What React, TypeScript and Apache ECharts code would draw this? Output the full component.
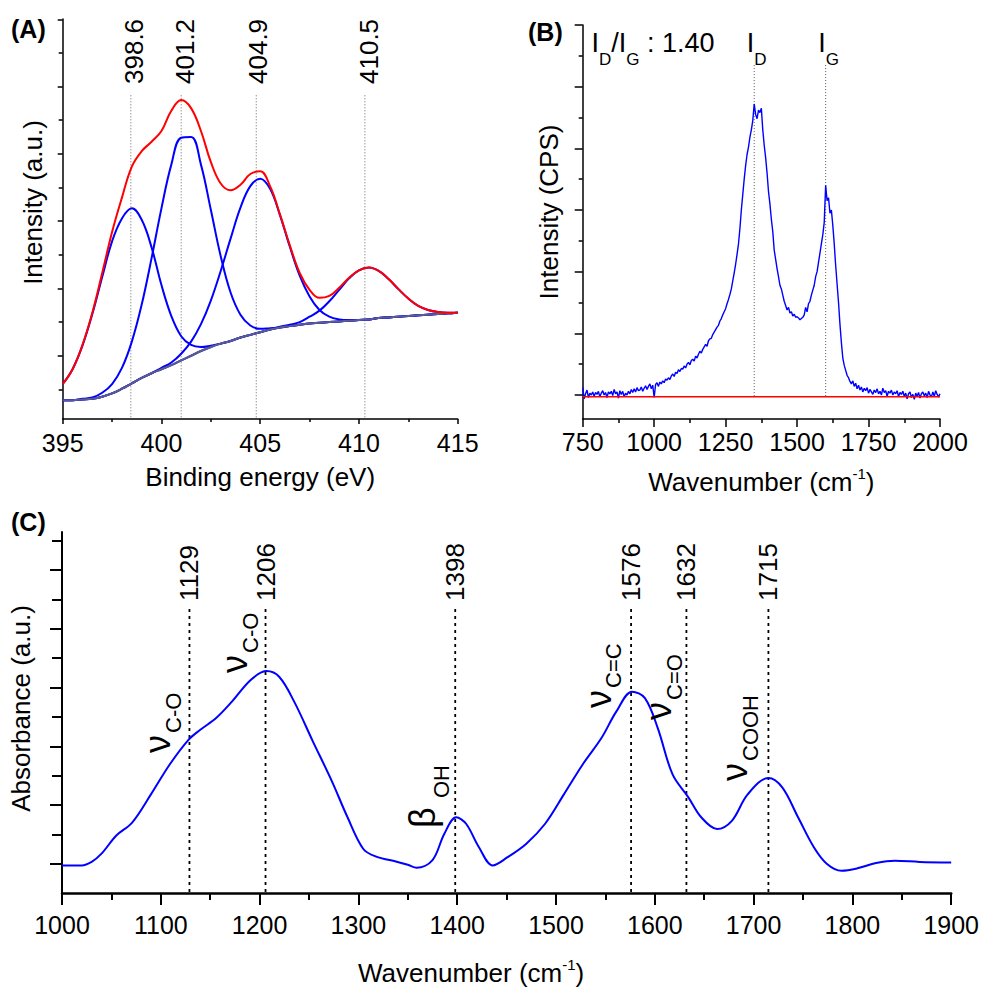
import React, { useEffect, useRef } from 'react';
import * as echarts from 'echarts';

const FONT = "'Liberation Sans', Arial, Helvetica, sans-serif";

// ---------- Panel A : XPS N1s ----------
const xpsStart = 395;
const xpsStep = 0.5;
const xpsBackground = [0.28,0.28,0.29,0.30,0.33,0.38,0.45,0.53,0.61,0.68,0.74,0.80,0.87,0.94,1.01,1.07,1.12,1.16,1.21,1.25,1.29,1.33,1.36,1.38,1.40,1.42,1.43,1.44,1.45,1.46,1.47,1.48,1.50,1.51,1.52,1.53,1.54,1.55,1.56,1.57,1.58];
const xpsPeak1 = [0.52,0.74,1.09,1.56,2.11,2.64,2.98,3.13,2.96,2.55,1.99,1.53,1.23,1.10,1.07,1.09,1.12,1.16,1.21,1.25,1.29,1.33,1.36,1.38,1.40,1.42,1.43,1.44,1.45,1.46,1.47,1.48,1.50,1.51,1.52,1.53,1.54,1.55,1.56,1.57,1.58];
const xpsPeak2 = [0.28,0.28,0.30,0.32,0.39,0.52,0.76,1.15,1.70,2.39,3.13,3.78,4.18,4.19,3.78,3.11,2.42,1.88,1.55,1.39,1.34,1.35,1.36,1.38,1.40,1.42,1.43,1.44,1.45,1.46,1.47,1.48,1.50,1.51,1.52,1.53,1.54,1.55,1.56,1.57,1.58];
const xpsPeak3 = [0.28,0.28,0.29,0.30,0.33,0.38,0.45,0.53,0.61,0.68,0.76,0.84,0.97,1.15,1.41,1.76,2.20,2.68,3.14,3.46,3.57,3.42,3.03,2.56,2.13,1.82,1.62,1.52,1.48,1.47,1.47,1.48,1.50,1.51,1.52,1.53,1.54,1.55,1.56,1.57,1.58];
const xpsPeak4 = [0.28,0.28,0.29,0.30,0.33,0.38,0.45,0.53,0.61,0.68,0.74,0.80,0.87,0.94,1.01,1.07,1.12,1.16,1.21,1.25,1.29,1.33,1.37,1.40,1.44,1.52,1.61,1.75,1.92,2.09,2.21,2.25,2.20,2.08,1.93,1.79,1.68,1.62,1.59,1.58,1.58];
const xpsEnvelope = [0.52,0.74,1.10,1.58,2.17,2.78,3.29,3.75,3.98,4.12,4.28,4.58,4.74,4.62,4.28,3.82,3.50,3.40,3.48,3.64,3.68,3.46,3.04,2.58,2.17,1.92,1.80,1.83,1.95,2.10,2.21,2.25,2.20,2.08,1.93,1.79,1.68,1.62,1.59,1.58,1.58];
const xpsPeakLabels = ['398.6', '401.2', '404.9', '410.5'];
const xpsPeakLabelAt = [398.6, 401.2, 404.9, 410.5];
const xpsGuides = [398.45, 401.0, 404.8, 410.3];
const xpsGuideTop = 4.81;

// ---------- Panel B : Raman ----------
const ramanStart = 750;
const ramanStep = 5;
const ramanIntensity = [
  0.12,-0.06,0.02,0.08,-0.04,0.03,0.00,0.05,-0.02,0.04,
  0.01,0.06,-0.03,0.03,0.07,0.00,0.04,-0.04,0.05,0.02,
  0.06,-0.01,0.09,0.02,0.05,-0.05,0.07,0.01,0.06,-0.03,
  0.03,0.00,0.06,0.02,0.09,0.04,0.10,0.05,0.12,0.07,
  0.08,0.13,0.06,0.11,0.15,0.09,0.14,0.18,0.10,0.16,
  -0.04,0.17,0.20,0.14,0.21,0.18,0.23,0.20,0.26,0.24,
  0.28,0.25,0.31,0.34,0.30,0.37,0.35,0.41,0.38,0.43,
  0.42,0.47,0.44,0.50,0.53,0.49,0.56,0.58,0.55,0.63,
  0.60,0.66,0.71,0.68,0.74,0.78,0.82,0.79,0.88,0.91,
  0.92,0.98,1.02,1.06,1.10,1.13,1.20,1.24,1.30,1.35,
  1.40,1.48,1.55,1.63,1.72,1.85,1.98,2.12,2.28,2.45,
  2.70,3.00,3.25,3.50,3.72,3.90,4.02,4.18,4.30,4.45,
  4.72,4.55,4.48,4.62,4.58,4.65,4.30,4.05,3.85,3.60,
  3.30,3.10,2.85,2.65,2.35,2.20,2.05,1.92,1.78,1.72,
  1.62,1.52,1.45,1.38,1.42,1.33,1.35,1.28,1.31,1.26,
  1.27,1.25,1.22,1.24,1.26,1.30,1.42,1.35,1.48,1.52,
  1.62,1.70,1.78,1.92,2.00,2.15,2.30,2.45,2.60,2.80,
  3.40,3.15,3.20,2.95,3.00,2.75,2.45,2.10,1.80,1.50,
  1.15,0.85,0.60,0.48,0.40,0.32,0.28,0.22,0.18,0.23,
  0.14,0.19,0.10,0.16,0.08,0.13,0.05,0.11,0.07,0.12,
  0.03,0.09,0.05,0.01,0.08,0.04,0.10,0.02,0.06,0.00,
  0.11,0.04,0.07,-0.02,0.06,0.03,0.08,0.00,0.05,0.02,
  0.07,-0.03,0.04,0.01,0.06,-0.02,0.03,-0.06,0.02,0.05,
  -0.04,0.01,-0.07,0.03,-0.02,0.04,-0.05,0.02,0.05,-0.01,
  0.03,-0.04,0.06,0.00,-0.03,0.05,-0.02,0.07,0.01,-0.03,
  0.02
];
const ramanBaselineX = [750, 2000];
const ramanBaselineY = [-0.03, -0.03];
const ramanBands = [1350, 1600];
const ramanBandNames = ['D', 'G'];
const ramanRatio = '1.40';
const ramanGuideTop = 5.35;
const ramanGuideBottom = -0.03;

// ---------- Panel C : FTIR ----------
const ftirWn = [1000,1020,1030,1040,1055,1071,1090,1109,1128,1140,1156,1172,1191,1207,1220,1235,1254,1273,1289,1305,1318,1337,1350,1359,1375,1387,1399,1409,1422,1436,1451,1470,1489,1508,1527,1546,1561,1577,1590,1603,1618,1634,1647,1663,1678,1694,1715,1729,1745,1761,1774,1789,1805,1824,1843,1868,1900];
const ftirAbs = [-0.03,-0.03,0.03,0.17,0.48,0.70,1.18,1.69,2.11,2.28,2.48,2.76,3.13,3.28,3.18,2.76,2.08,1.41,0.79,0.25,0.12,0.04,-0.02,-0.07,0.06,0.51,0.79,0.68,0.28,-0.03,0.11,0.34,0.68,1.18,1.69,2.14,2.59,2.93,2.82,2.31,1.52,1.13,0.79,0.59,0.73,1.18,1.46,1.30,0.79,0.28,0.00,-0.12,-0.08,0.01,0.05,0.03,0.02];
const ftirBands = [1129, 1206, 1398, 1576, 1632, 1715];
const ftirGuideTop = 4.34;
const ftirGuideBottom = -0.5;
const ftirAssignSymbols = ['ν', 'ν', 'β', 'ν', 'ν', 'ν'];
const ftirAssignSubs = ['C-O', 'C-O', 'OH', 'C=C', 'C=O', 'COOH'];
const ftirAssignAt = [1100, 1178, 1368, 1546, 1607, 1684];

// layout-only constants (pixels)
const assignBottomY = [753, 673, 828, 708, 720, 781];

const plain = (v: number) => String(v);

function axisBase(extra: any) {
  return Object.assign({
    type: 'value',
    splitLine: { show: false },
    minorSplitLine: { show: false },
  }, extra);
}

function yTickAxis(gridIndex: number, min: number, max: number, ticks: number[], len: number, width: number, showLine: boolean) {
  return axisBase({
    gridIndex, min, max, position: 'left',
    axisLine: { show: showLine, onZero: false, lineStyle: { color: '#000', width } },
    axisTick: { show: true, customValues: ticks, length: len, lineStyle: { color: '#000', width } },
    axisLabel: { show: false },
  });
}

function buildOption() {
  const xsA = xpsEnvelope.map((_, i) => xpsStart + i * xpsStep);
  const pairA = (arr: number[]) => arr.map((v, i) => [xsA[i], v]);
  const ramanData = ramanIntensity.map((v, i) => [ramanStart + i * ramanStep, v]);
  const ftirData = ftirWn.map((w, i) => [w, ftirAbs[i]]);

  const line = (xi: number, yi: number, data: any[], color: string, width: number, smooth: any, z = 2) => ({
    type: 'line', xAxisIndex: xi, yAxisIndex: yi, data, showSymbol: false, symbol: 'none',
    smooth, lineStyle: { color, width }, silent: true, z,
  });
  const guide = (xi: number, yi: number, x: number, y0: number, y1: number, color: string, width: number, dash: number[]) => ({
    type: 'line', xAxisIndex: xi, yAxisIndex: yi, data: [[x, y0], [x, y1]], showSymbol: false, symbol: 'none',
    lineStyle: { color, width, type: dash }, silent: true, z: 1,
  });

  const series: any[] = [];
  xpsGuides.forEach((g) => series.push(guide(0, 0, g, xpsGuideTop, 0, '#666', 1, [1, 2])));
  [xpsPeak1, xpsPeak2, xpsPeak3, xpsPeak4].forEach((p) => series.push(line(0, 0, pairA(p), '#0000ff', 2, 0.4)));
  series.push(line(0, 0, pairA(xpsBackground), '#5c5c8c', 2, 0.4));
  series.push(line(0, 0, pairA(xpsEnvelope), '#ff0000', 2, 0.4));

  ramanBands.forEach((b) => series.push(guide(1, 2, b, ramanGuideTop, ramanGuideBottom, '#555', 1, [1, 2])));
  series.push(line(1, 2, ramanData, '#0000ff', 1.4, false));
  series.push(line(1, 2, ramanBaselineX.map((x, i) => [x, ramanBaselineY[i]]), '#ff0000', 1.5, false));

  ftirBands.forEach((b) => series.push(guide(2, 4, b, ftirGuideTop, ftirGuideBottom, '#000', 1.8, [3, 4])));
  series.push(line(2, 4, ftirData, '#0000ff', 2, 0.35));

  const supRich = { sup: { fontSize: 15, lineHeight: 15, verticalAlign: 'top', fontFamily: FONT, color: '#000' } };

  return {
    animation: false,
    backgroundColor: '#fff',
    textStyle: { fontFamily: FONT, color: '#000' },
    grid: [
      { left: 62.7, top: 19, width: 395, height: 400 },
      { left: 582.7, top: 25, width: 357.3, height: 394 },
      { left: 61.5, top: 532, width: 892.1, height: 364 },
    ],
    xAxis: [
      axisBase({
        gridIndex: 0, min: 395, max: 415, interval: 5,
        axisLine: { show: true, onZero: false, lineStyle: { color: '#000', width: 1.5 } },
        axisTick: { show: true, length: 5, lineStyle: { color: '#000', width: 1.5 } },
        minorTick: { show: true, splitNumber: 2, length: 3, lineStyle: { color: '#000', width: 1.5 } },
        axisLabel: { fontSize: 25, color: '#000', margin: 11, fontFamily: FONT, formatter: plain },
        name: 'Binding energy (eV)', nameLocation: 'middle', nameGap: 45,
        nameTextStyle: { fontSize: 26, color: '#000', fontFamily: FONT },
      }),
      axisBase({
        gridIndex: 1, min: 750, max: 2000, interval: 250,
        axisLine: { show: true, onZero: false, lineStyle: { color: '#000', width: 1.5 } },
        axisTick: { show: true, length: 8, lineStyle: { color: '#000', width: 1.5 } },
        minorTick: { show: true, splitNumber: 2, length: 4, lineStyle: { color: '#000', width: 1.5 } },
        axisLabel: { fontSize: 25, color: '#000', margin: 10, fontFamily: FONT, formatter: plain },
        name: 'Wavenumber (cm{sup|-1})', nameLocation: 'middle', nameGap: 47,
        nameTextStyle: { fontSize: 26, lineHeight: 32, color: '#000', fontFamily: FONT, rich: supRich },
      }),
      axisBase({
        gridIndex: 2, min: 1000, max: 1900, interval: 100,
        axisLine: { show: true, onZero: false, lineStyle: { color: '#000', width: 2.5 } },
        axisTick: { show: true, length: 12, lineStyle: { color: '#000', width: 2 } },
        minorTick: { show: true, splitNumber: 2, length: 7, lineStyle: { color: '#000', width: 2 } },
        axisLabel: { fontSize: 25, color: '#000', margin: 19, fontFamily: FONT, formatter: plain },
        name: 'Wavenumber (cm{sup|-1})', nameLocation: 'middle', nameGap: 64,
        nameTextStyle: { fontSize: 26, lineHeight: 32, color: '#000', fontFamily: FONT, padding: [0, 71, 0, 0], rich: supRich },
      }),
    ],
    yAxis: [
      Object.assign(yTickAxis(0, 0, 5.944, [0.94, 1.94, 2.94, 3.94, 4.94, 5.94], 5, 1.5, true), {
        name: 'Intensity (a.u.)', nameLocation: 'middle', nameGap: 17,
        nameTextStyle: { fontSize: 26, color: '#000', fontFamily: FONT, padding: [0, 0, 0, 33] },
      }),
      yTickAxis(0, 0, 5.944, [0.44, 1.44, 2.44, 3.44, 4.44, 5.44], 4, 1.5, false),
      Object.assign(yTickAxis(1, -0.389, 6, [0, 1, 2, 3, 4, 5, 6], 8, 1.5, true), {
        name: 'Intensity (CPS)', nameLocation: 'middle', nameGap: 21,
        nameTextStyle: { fontSize: 26, color: '#000', fontFamily: FONT, padding: [0, 0, 0, 20] },
      }),
      yTickAxis(1, -0.389, 6, [0.5, 1.5, 2.5, 3.5, 4.5, 5.5], 4, 1.5, false),
      Object.assign(yTickAxis(2, -0.5, 5.65, [0, 1, 2, 3, 4, 5], 12, 2, true), {
        name: 'Absorbance (a.u.)', nameLocation: 'middle', nameGap: 28,
        nameTextStyle: { fontSize: 26, color: '#000', fontFamily: FONT, padding: [0, 0, 0, 8] },
      }),
      yTickAxis(2, -0.5, 5.65, [0.5, 1.5, 2.5, 3.5, 4.5, 5.5], 10, 2, false),
    ],
    series,
  };
}

function buildGraphics(chart: any) {
  const toPx = (xi: number, yi: number, x: number, y: number) =>
    chart.convertToPixel({ xAxisIndex: xi, yAxisIndex: yi }, [x, y]) as number[];
  const R = Math.PI / 2;
  const txt = (text: string, x: number, y: number, size: number, rot = 0, bold = false) => ({
    type: 'text', x, y, rotation: rot, silent: true, z: 100,
    style: {
      text, fontSize: size, fontFamily: FONT, fontWeight: bold ? 'bold' : 'normal',
      fill: '#000', align: 'left', verticalAlign: 'middle',
    },
  });
  const g: any[] = [];
  g.push(txt('(A)', 11, 29, 25, 0, true));
  g.push(txt('(B)', 528, 32, 25, 0, true));
  g.push(txt('(C)', 11, 522, 25, 0, true));

  xpsPeakLabelAt.forEach((v, i) => {
    const [x] = toPx(0, 0, v, 0);
    g.push(txt(xpsPeakLabels[i], x, 84, 26, R));
  });

  const subRich = {
    m: { fontSize: 27, lineHeight: 50, fontFamily: FONT, fill: '#000' },
    s: { fontSize: 17, lineHeight: 17, verticalAlign: 'bottom', fontFamily: FONT, fill: '#000' },
  };
  g.push({
    type: 'text', x: 591.5, y: 42.5, silent: true, z: 100,
    style: {
      text: '{m|I}{s|' + ramanBandNames[0] + '}{m|/I}{s|' + ramanBandNames[1] + '}{m| : ' + ramanRatio + '}',
      rich: subRich, align: 'left', verticalAlign: 'middle', fill: '#000',
    },
  });
  ramanBands.forEach((b, i) => {
    const [x] = toPx(1, 2, b, 0);
    g.push({
      type: 'text', x: x - 7.5, y: 42.5, silent: true, z: 100,
      style: { text: '{m|I}{s|' + ramanBandNames[i] + '}', rich: subRich, align: 'left', verticalAlign: 'middle', fill: '#000' },
    });
  });

  ftirBands.forEach((b) => {
    const [x] = toPx(2, 4, b, 0);
    g.push(txt(String(b), x, 601, 26, R));
  });
  ftirAssignAt.forEach((w, i) => {
    const [x] = toPx(2, 4, w, 0);
    const y = assignBottomY[i];
    const isBeta = ftirAssignSymbols[i] === 'β';
    g.push(txt(ftirAssignSymbols[i], x - 3, y, 36, R));
    g.push(txt(ftirAssignSubs[i], x + (isBeta ? 16 : 12.5), y - (isBeta ? 30 : 20), 22, R));
  });
  return g;
}

export default function App() {
  const ref = useRef<HTMLDivElement>(null);
  useEffect(() => {
    const el = ref.current;
    if (!el) return;
    const chart = echarts.init(el, undefined, { renderer: 'svg' });
    chart.setOption(buildOption() as any);
    chart.setOption({ graphic: buildGraphics(chart) } as any);
    return () => chart.dispose();
  }, []);
  return (
    <div
      ref={ref}
      style={{ position: 'absolute', left: 0, top: 0, width: 982, height: 990, background: '#fff' }}
    />
  );
}
